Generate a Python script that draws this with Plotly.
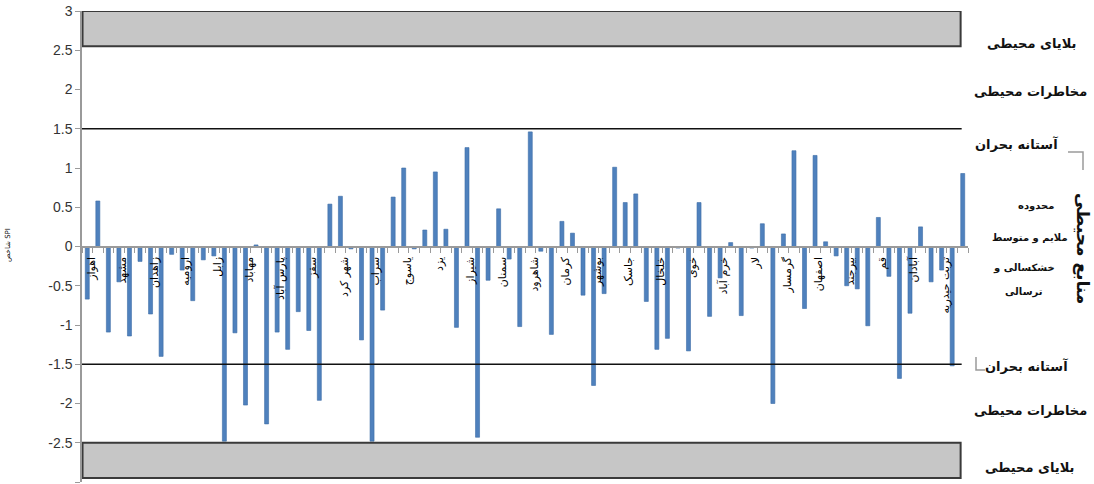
import plotly.graph_objects as go

# SPI of the 84 synoptic stations, in plotting order
spi = [
    -0.67, 0.58, -1.09, -0.45, -1.14, -0.19, -0.86, -1.40, -0.10, -0.30,
    -0.69, -0.17, -0.12, -2.48, -1.10, -2.02, 0.02, -2.26, -1.09, -1.31,
    -0.83, -1.07, -1.96, 0.54, 0.64, -0.03, -1.19, -2.48, -0.81, 0.63,
    1.00, -0.03, 0.21, 0.95, 0.22, -1.03, 1.26, -2.43, -0.43, 0.48,
    -0.16, -1.02, 1.46, -0.06, -1.12, 0.32, 0.17, -0.62, -1.77, -0.60,
    1.01, 0.56, 0.67, -0.70, -1.31, -1.17, -0.02, -1.33, 0.56, -0.89,
    -0.40, 0.05, -0.88, -0.02, 0.29, -2.00, 0.16, 1.22, -0.79, 1.16,
    0.06, -0.12, -0.50, -0.54, -1.01, 0.37, -0.38, -1.68, -0.85, 0.25,
    -0.45, -0.30, -1.52, 0.93,
]
station_no = list(range(1, len(spi) + 1))

# every third station carries its name on the axis
labelled_station_no = list(range(1, len(spi) + 1, 3))
station_names = [
    "اهواز", "مشهد", "زاهدان", "ارومیه", "زابل", "مهاباد", "پارس آباد",
    "سقز", "شهر کرد", "سراب", "یاسوج", "یزد", "شیراز", "سمنان",
    "شاهرود", "کرمان", "بوشهر", "جاسک", "خلخال", "خوی", "خرم آباد",
    "لار", "گرمسار", "اصفهان", "بیرجند", "قم", "آبادان", "تربت حیدریه",
]

y_ticks = [-3, -2.5, -2, -1.5, -1, -0.5, 0, 0.5, 1, 1.5, 2, 2.5, 3]
crisis_thresholds = [1.5, -1.5]
disaster_bands = [(2.55, 3.0), (-2.95, -2.5)]

W, H = 1094, 484
L, R, T, B = 82, 126, 11, 2
PW, PH = W - L - R, H - T - B


def px(xp):
    return (xp - L) / PW


def py(yp):
    return (H - B - yp) / PH


FA = "DejaVu Sans"
BAR_BLUE = "#4F81BD"
AXIS_GREY = "#9a9a9a"

fig = go.Figure()
fig.add_trace(go.Bar(
    x=station_no, y=spi, width=0.38,
    marker=dict(color=BAR_BLUE, line=dict(color="#3D6CA6", width=0.6)),
    hoverinfo="x+y",
))

shapes = []
for band in disaster_bands:
    shapes.append(dict(type="rect", xref="x", yref="y", x0=0.55, x1=83.8,
                       y0=band[0], y1=band[1], fillcolor="#c6c6c6",
                       line=dict(color="#3a3a3a", width=2), layer="above"))
for thr in crisis_thresholds:
    shapes.append(dict(type="line", xref="x", yref="y", x0=0.5, x1=83.9,
                       y0=thr, y1=thr, line=dict(color="#111111", width=1.6),
                       layer="above"))

# small corner brackets beside the threshold captions
bracket = dict(color="#9a9a9a", width=1.5)
shapes.append(dict(type="path", xref="paper", yref="paper",
                   path=f"M {px(1068)},{py(152)} L {px(1083)},{py(152)} L {px(1083)},{py(170)}",
                   line=bracket))
shapes.append(dict(type="path", xref="paper", yref="paper",
                   path=f"M {px(976)},{py(357)} L {px(976)},{py(370)} L {px(985)},{py(370)}",
                   line=bracket))

annotations = []


def side_text(text, x, y, size=12, bold=True, angle=0):
    annotations.append(dict(
        text=f"<b>{text}</b>" if bold else text, xref="paper", yref="paper",
        x=px(x), y=py(y), xanchor="center", yanchor="middle", showarrow=False,
        textangle=angle, font=dict(family=FA, size=size, color="#111111")))


side_text("بلایای محیطی", 1032, 44, size=13)
side_text("مخاطرات محیطی", 1030, 92, size=13)
side_text("آستانه بحران", 1016, 144, size=13)
side_text("محدوده", 1036, 206, size=10)
side_text("ملایم و متوسط", 1030, 238, size=10)
side_text("خشکسالی و", 1024, 268, size=10)
side_text("ترسالی", 1024, 292, size=10)
side_text("منابع محیطی", 1083, 248, size=17, angle=90)
side_text("آستانه بحران", 1026, 366, size=13)
side_text("مخاطرات محیطی", 1030, 410, size=13)
side_text("بلایای محیطی", 1030, 467, size=13)
side_text("شاخص SPI", 8, 245, size=7, bold=False, angle=-90)

fig.update_layout(
    width=W, height=H,
    margin=dict(l=L, r=R, t=T, b=B, pad=0),
    paper_bgcolor="white", plot_bgcolor="white",
    showlegend=False,
    bargap=0.6,
    shapes=shapes,
    annotations=annotations,
    xaxis=dict(
        range=[0.5, len(spi) + 0.5], anchor="free", position=0.5,
        showline=True, linecolor=AXIS_GREY, linewidth=2,
        tickmode="array",
        tickvals=[n + 0.35 for n in labelled_station_no],
        ticktext=station_names, tickangle=-90, ticks="",
        ticklabelstandoff=5,
        tickfont=dict(family=FA, size=11, color="#000000"),
        minor=dict(tickmode="array",
                   tickvals=[n + 0.5 for n in range(0, len(spi) + 1)],
                   ticks="outside", ticklen=5, tickcolor=AXIS_GREY,
                   tickwidth=1, showgrid=False),
        showgrid=False, zeroline=False, layer="above traces",
    ),
    yaxis=dict(
        range=[-3, 3], tickmode="array", tickvals=y_ticks,
        ticktext=[f"{v:g}" for v in y_ticks],
        ticks="outside", ticklen=5, tickcolor=AXIS_GREY,
        showline=True, linecolor=AXIS_GREY, linewidth=1.5,
        showgrid=False, zeroline=False,
        tickfont=dict(family="Liberation Sans", size=14, color="#333333"),
    ),
)

fig.write_html("out.html")
